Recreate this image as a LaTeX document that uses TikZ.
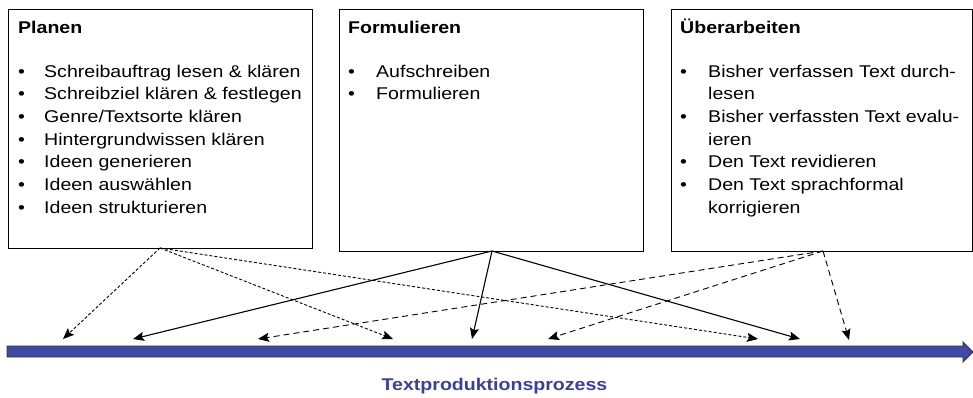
\documentclass[tikz,border=0pt]{standalone}
\usepackage{fontspec}
\setmainfont{Liberation Sans}[FakeStretch=1.15]
\usetikzlibrary{arrows.meta}
\definecolor{barblue}{RGB}{64,73,168}
\definecolor{labblue}{RGB}{59,63,158}
\tikzset{
  box/.style={draw=black, line width=1pt},
  ln/.style={anchor=base west, inner sep=0pt, font=\fontsize{17}{20}\selectfont},
  hd/.style={anchor=base west, inner sep=0pt, font=\fontsize{17}{20}\selectfont\bfseries},
  tip/.style={-{Stealth[length=11pt,width=9pt,inset=2pt]}},
  pdash/.style={tip, line width=0.9pt, dash pattern=on 3pt off 2pt},
  udash/.style={tip, line width=0.9pt, dash pattern=on 6pt off 4pt},
  solidarr/.style={tip, line width=1.1pt},
}
\begin{document}
\begin{tikzpicture}[x=1pt,y=-1pt]
\useasboundingbox (0,0) rectangle (973,397);
% boxes
\draw[box] (8,9) rectangle (312,248);
\draw[box] (339,9) rectangle (643,251);
\draw[box] (671,9) rectangle (972,251);
% Planen
\node[hd] (ph) at (18,33) {Planen};
\foreach \t [count=\i] in {Schreibauftrag lesen \& klären, Schreibziel klären \& festlegen, Genre/Textsorte klären, Hintergrundwissen klären, Ideen generieren, Ideen auswählen, Ideen strukturieren}{
  \node[ln] (pb\i) at (18,{77+22.7*(\i-1)}) {•};
  \node[ln] (pt\i) at (44,{77+22.7*(\i-1)}) {\t};
}
% Formulieren
\node[hd] (fh) at (348,33) {Formulieren};
\node[ln] (fb1) at (348,77) {•};
\node[ln] (ft1) at (376,77) {Aufschreiben};
\node[ln] (fb2) at (348,99.7) {•};
\node[ln] (ft2) at (376,99.7) {Formulieren};
% Ueberarbeiten
\node[hd] (uh) at (680,33) {Überarbeiten};
\node[ln] (ub1) at (680,77) {•};
\node[ln] (ut1) at (708,77) {Bisher verfassen Text durch-};
\node[ln] (ut1b) at (708,99.7) {lesen};
\node[ln] (ub2) at (680,122.4) {•};
\node[ln] (ut2) at (708,122.4) {Bisher verfassten Text evalu-};
\node[ln] (ut2b) at (708,145.1) {ieren};
\node[ln] (ub3) at (680,167.8) {•};
\node[ln] (ut3) at (708,167.8) {Den Text revidieren};
\node[ln] (ub4) at (680,190.5) {•};
\node[ln] (ut4) at (708,190.5) {Den Text sprachformal};
\node[ln] (ut4b) at (708,213.2) {korrigieren};
% process bar
\draw[fill=barblue, draw=black!80, line width=0.8pt]
  (7,346) -- (963,346) -- (963,342) -- (973,352) -- (963,362) -- (963,357) -- (7,357) -- cycle;
\node[anchor=base, inner sep=0pt, text=labblue, font=\fontsize{17}{20}\selectfont\bfseries] (lab) at (494.5,390) {Textproduktionsprozess};
% connector coordinates
\coordinate (ps) at (160,248);
\coordinate (fs) at (492,251);
\coordinate (us) at (823,251);
\coordinate (pa) at (63,339);
\coordinate (pb) at (393,339);
\coordinate (pc) at (758,339);
\coordinate (fa) at (133,339);
\coordinate (fb) at (472,339);
\coordinate (fc) at (800,339);
\coordinate (ua) at (258,339);
\coordinate (ub) at (548,339);
\coordinate (uc) at (849,340);
% connectors
\draw[pdash] (ps) -- (pa);
\draw[pdash] (ps) -- (pb);
\draw[pdash] (ps) -- (pc);
\draw[solidarr] (fs) -- (fa);
\draw[solidarr] (fs) -- (fb);
\draw[solidarr] (fs) -- (fc);
\draw[udash] (us) -- (ua);
\draw[udash] (us) -- (ub);
\draw[udash] (us) -- (uc);
\end{tikzpicture}
\end{document}
